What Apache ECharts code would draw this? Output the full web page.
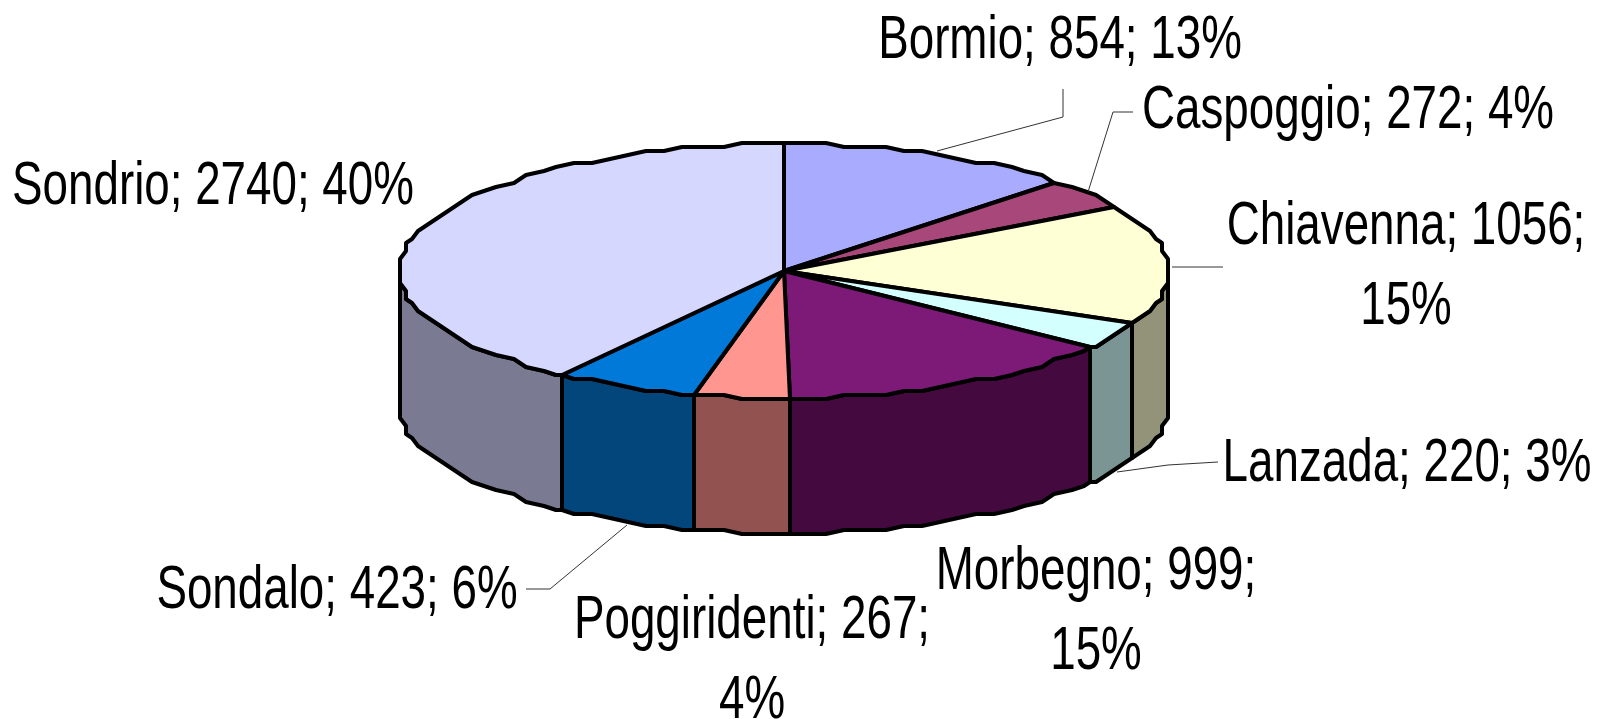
<!DOCTYPE html>
<html>
<head>
<meta charset="utf-8">
<title>Pie</title>
<script src="https://cdn.jsdelivr.net/npm/echarts@6/dist/echarts.min.js"></script>
<style>
  html, body { margin: 0; padding: 0; background: #fff; }
  #chart { width: 1598px; height: 719px; }
</style>
</head>
<body>
<div id="chart"></div>
<script>
// data
const names = ['Bormio', 'Caspoggio', 'Chiavenna', 'Lanzada', 'Morbegno', 'Poggiridenti', 'Sondalo', 'Sondrio'];
const values = [854, 272, 1056, 220, 999, 267, 423, 2740];

// colours
const topColors = ['#A9ABFF', '#A8487A', '#FFFFD5', '#D3FFFF', '#7D1A78', '#FF9690', '#0079D8', '#D6D7FF'];
const wallColors = ['#7F80BF', '#7E365C', '#93937A', '#7B9494', '#440A40', '#925350', '#03467B', '#7A7A92'];

// layout: label centre, whether the percent wraps, leader line
const labelPos = [[1060, 41], [1348, 111], [1406, 267], [1407, 464], [1096, 612], [752, 661], [337, 591], [213, 187]];
const labelWrap = [false, false, true, false, true, true, false, false];
const leaders = [
  [[1063, 89], [1063, 117], [937, 151]],
  [[1133, 112], [1113, 112], [1088, 192]],
  [[1172, 267], [1223, 267]],
  [[1117, 472], [1168, 465], [1218, 462]],
  [],
  [],
  [[526, 589], [550, 589], [627, 525]],
  []
];

const cx = 784, cy = 271, rx = 384, ry = 127, depth = 135;
const total = values.reduce((a, b) => a + b, 0);

// cumulative angle (degrees clockwise from 12 o'clock)
const starts = [];
values.reduce((sum, v, i) => { starts[i] = sum / total * 360; return sum + v; }, 0);

// the outline of the original is quantised, so snap it to a coarse grid
function rimPoint(deg) {
  const t = deg * Math.PI / 180;
  const x = rx * Math.sin(t), y = -ry * Math.cos(t);
  return [cx + Math.round(x / 6) * 6, cy + Math.round(y / 4) * 4];
}
function rim(a0, a1) {
  const angles = [a0];
  for (let a = Math.ceil(a0 / 3) * 3; a < a1; a += 3) {
    if (a > a0) angles.push(a);
  }
  angles.push(a1);
  const pts = [];
  angles.forEach(a => {
    const p = rimPoint(a);
    const last = pts[pts.length - 1];
    if (!last || last[0] !== p[0] || last[1] !== p[1]) pts.push(p);
  });
  return pts;
}

function renderSlice(params) {
  const i = params.dataIndex;
  const a0 = starts[i], a1 = a0 + values[i] / total * 360;
  const children = [];
  const edge = { stroke: '#000', lineWidth: 4, lineJoin: 'round' };

  // side wall only on the front half
  const w0 = Math.max(a0, 90), w1 = Math.min(a1, 270);
  if (w1 > w0) {
    const upper = rim(w0, w1);
    const lower = upper.map(p => [p[0], p[1] + depth]).reverse();
    children.push({
      type: 'polygon',
      shape: { points: upper.concat(lower) },
      style: Object.assign({ fill: wallColors[i] }, edge)
    });
  }
  children.push({
    type: 'polygon',
    shape: { points: [[cx, cy]].concat(rim(a0, a1)) },
    style: Object.assign({ fill: topColors[i] }, edge)
  });

  if (leaders[i].length) {
    children.push({
      type: 'polyline',
      shape: { points: leaders[i] },
      style: { fill: null, stroke: '#333', lineWidth: 1 }
    });
  }

  const pct = Math.round(values[i] / total * 100) + '%';
  const text = names[i] + '; ' + values[i] + ';' + (labelWrap[i] ? '\n' : ' ') + pct;
  children.push({
    type: 'text',
    x: labelPos[i][0],
    y: labelPos[i][1],
    scaleX: 0.75,
    style: {
      text: text,
      align: 'center',
      verticalAlign: 'middle',
      fontFamily: '"Liberation Sans", sans-serif',
      fontSize: 61,
      lineHeight: 80,
      fill: '#000'
    }
  });
  return { type: 'group', children: children };
}

const myChart = echarts.init(document.getElementById('chart'));
myChart.setOption({
  animation: false,
  backgroundColor: '#fff',
  series: [{
    type: 'custom',
    coordinateSystem: 'none',
    silent: true,
    clip: false,
    data: names.map((n, i) => ({ name: n, value: values[i] })),
    renderItem: renderSlice
  }]
});
</script>
</body>
</html>
